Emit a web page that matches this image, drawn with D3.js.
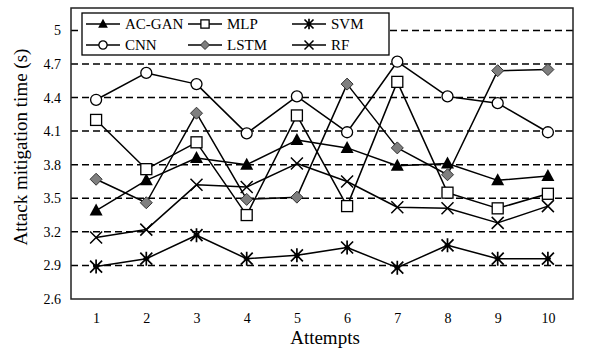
<!DOCTYPE html>
<head>
<meta charset="utf-8">
<style>
body { margin: 0; background: #fff; }
text { font-family: "Liberation Serif", "Times New Roman", serif; fill: #000; }
.grid line { stroke: #000; stroke-width: 1.5px; stroke-dasharray: 7,4; }
.line { fill: none; stroke: #000; stroke-width: 1.5px; stroke-linejoin: round; }
</style>
<script src="https://cdn.jsdelivr.net/npm/d3@7"></script>
</head>
<body>
<svg class="chart" width="594" height="350"></svg>
<script>

// Attempts on the x axis.
var attempts = [1, 2, 3, 4, 5, 6, 7, 8, 9, 10];
var yTicks = [2.6, 2.9, 3.2, 3.5, 3.8, 4.1, 4.4, 4.7, 5];

// Mitigation time per method.
var acgan = [3.39, 3.66, 3.86, 3.80, 4.02, 3.95, 3.79, 3.81, 3.66, 3.70];
var cnn   = [4.38, 4.62, 4.52, 4.08, 4.41, 4.09, 4.72, 4.41, 4.35, 4.09];
var mlp   = [4.20, 3.76, 4.00, 3.35, 4.24, 3.43, 4.54, 3.55, 3.41, 3.54];
var lstm  = [3.67, 3.46, 4.26, 3.49, 3.51, 4.52, 3.95, 3.71, 4.64, 4.65];
var svm   = [2.89, 2.96, 3.17, 2.96, 2.99, 3.06, 2.88, 3.08, 2.96, 2.96];
var rf    = [3.15, 3.22, 3.62, 3.60, 3.81, 3.65, 3.42, 3.41, 3.28, 3.43];

var series = [
  {name: "AC-GAN", values: acgan, marker: "triangle"},
  {name: "CNN", values: cnn, marker: "circle"},
  {name: "MLP", values: mlp, marker: "square"},
  {name: "LSTM", values: lstm, marker: "diamond"},
  {name: "SVM", values: svm, marker: "asterisk"},
  {name: "RF", values: rf, marker: "cross"}
];

var svg = d3.select(".chart"),
  margin = {top: 8, right: 21, bottom: 51, left: 71},
  width = +svg.attr("width") - margin.left - margin.right,
  height = +svg.attr("height") - margin.top - margin.bottom,
  g = svg.append("g").attr("transform", "translate(" + margin.left + "," + margin.top + ")");

var x = d3.scaleLinear().domain([0.5, 10.5]).range([0, width]);
var y = d3.scaleLinear().domain([2.6, 5.2]).range([height, 0]);

// Dashed horizontal gridlines.
g.append("g")
  .attr("class", "grid")
  .selectAll("line")
  .data(yTicks.slice(1))
  .enter().append("line")
  .attr("x1", 0).attr("x2", width)
  .attr("y1", function(d) { return y(d); })
  .attr("y2", function(d) { return y(d); });

// Axes, labels only.
var xAxis = g.append("g")
  .attr("transform", "translate(0," + height + ")")
  .call(d3.axisBottom(x).tickValues(attempts).tickSize(0).tickPadding(14));
var yAxis = g.append("g")
  .call(d3.axisLeft(y).tickValues(yTicks).tickSize(0).tickPadding(10).tickFormat(d3.format("")));
[xAxis, yAxis].forEach(function(a) {
  a.attr("font-family", null).attr("font-size", null);
  a.select(".domain").remove();
  a.selectAll("text").style("font-size", "14px");
});

// Draw one marker shape centred at 0,0, k scales it.
function drawMarker(sel, type, k) {
  k = k || 1;
  if (type === "circle") {
    sel.append("circle").attr("r", 5.5 * k).attr("fill", "#fff").attr("stroke", "#000").attr("stroke-width", 1.3);
  } else if (type === "square") {
    sel.append("rect").attr("x", -5.5 * k).attr("y", -5.5 * k).attr("width", 11 * k).attr("height", 11 * k)
      .attr("fill", "#fff").attr("stroke", "#000").attr("stroke-width", 1.3);
  } else if (type === "triangle") {
    sel.append("path").attr("d", "M0,-7L6.5,5L-6.5,5Z").attr("transform", "scale(" + k + ")").attr("fill", "#000");
  } else if (type === "diamond") {
    sel.append("path").attr("d", "M0,-6L6,0L0,6L-6,0Z").attr("transform", "scale(" + k + ")")
      .attr("fill", "#7f7f7f").attr("stroke", "#333").attr("stroke-width", 1 / k);
  } else if (type === "asterisk") {
    sel.append("path").attr("d", "M-6,-6L6,6M-6,6L6,-6M0,-7L0,7M-3,0L3,0").attr("transform", "scale(" + k + ")")
      .attr("stroke", "#000").attr("stroke-width", 1.7 / k);
  } else if (type === "cross") {
    sel.append("path").attr("d", "M-6,-6L6,6M-6,6L6,-6").attr("transform", "scale(" + k + ")")
      .attr("stroke", "#000").attr("stroke-width", 1.5 / k);
  }
}

var line = d3.line()
  .x(function(d, i) { return x(attempts[i]); })
  .y(function(d) { return y(d); });

series.forEach(function(s) {
  g.append("path").datum(s.values).attr("class", "line").attr("d", line);
});
series.forEach(function(s) {
  s.values.forEach(function(v, i) {
    drawMarker(g.append("g").attr("transform", "translate(" + x(attempts[i]) + "," + y(v) + ")"), s.marker);
  });
});

// Plot frame.
g.append("rect")
  .attr("width", width).attr("height", height)
  .attr("fill", "none").attr("stroke", "#222").attr("stroke-width", 1.5);

// Legend box in the top-left corner.
var legend = g.append("g").attr("transform", "translate(11,5)");
legend.append("rect").attr("width", 307).attr("height", 42)
  .attr("fill", "#fff").attr("stroke", "#000").attr("stroke-width", 1.3);
var legendOrder = ["AC-GAN", "MLP", "SVM", "CNN", "LSTM", "RF"];
var colX = [4, 106, 210];
legendOrder.forEach(function(name, k) {
  var s = series.find(function(d) { return d.name === name; });
  var item = legend.append("g")
    .attr("transform", "translate(" + colX[k % 3] + "," + (k < 3 ? 11 : 32) + ")");
  item.append("line").attr("x1", 0).attr("x2", 34).attr("stroke", "#000").attr("stroke-width", 1.5);
  drawMarker(item.append("g").attr("transform", "translate(17,0)"), s.marker, 0.75);
  item.append("text").attr("x", 39).attr("dy", "0.35em")
    .style("font-size", "15px").text(name);
});

// Axis titles.
g.append("text")
  .attr("x", width / 2 + 3).attr("y", height + 45)
  .attr("text-anchor", "middle").style("font-size", "19px")
  .text("Attempts");
g.append("text")
  .attr("transform", "rotate(-90)")
  .attr("x", -139).attr("y", -44)
  .attr("text-anchor", "middle").style("font-size", "19px")
  .text("Attack mitigation time (s)");

</script>
</body>
